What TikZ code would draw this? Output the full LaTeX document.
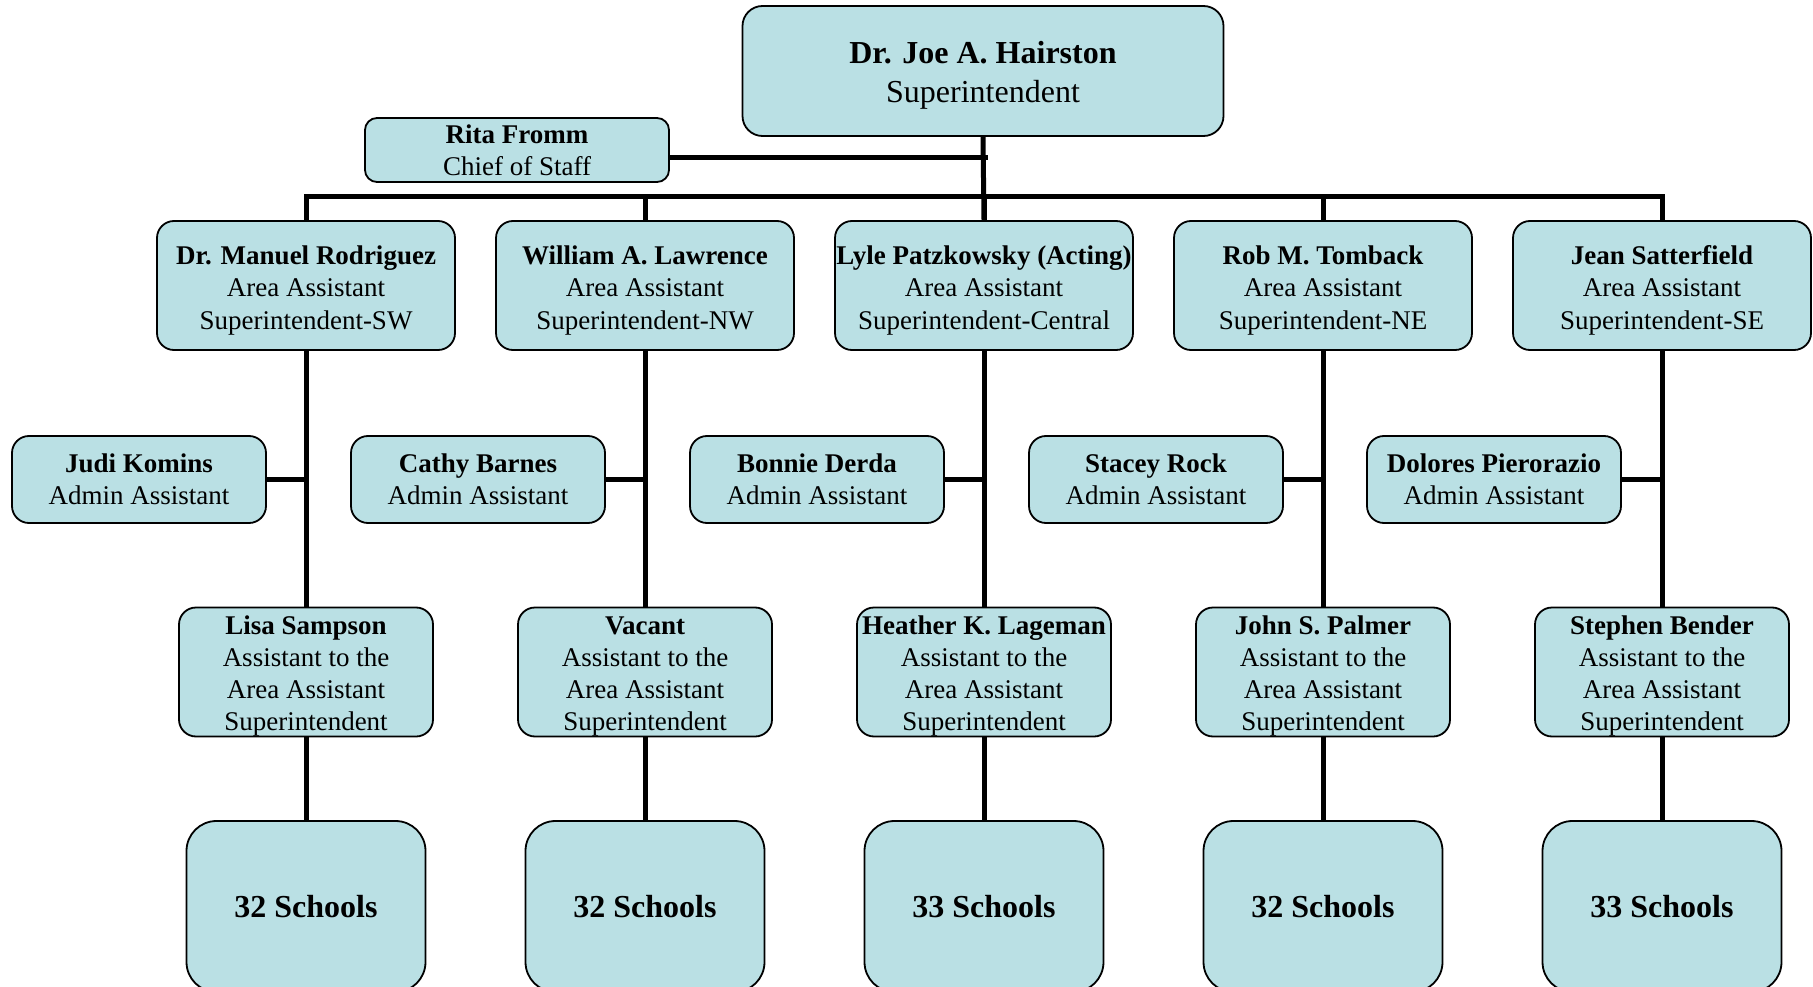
\documentclass[tikz,border=0pt]{standalone}
\usepackage{fontspec}
\setmainfont{Liberation Serif}
\usetikzlibrary{backgrounds}
\definecolor{boxfill}{RGB}{186,224,228}
\newcommand{\lowstrut}[1]{\rule{0pt}{#1}}
\tikzset{
  box/.style={draw=black, line width=1.8pt, fill=boxfill, rounded corners=17pt, align=center, inner sep=0pt, text=black},
  topbox/.style={box, minimum width=481pt, minimum height=130pt, rounded corners=20pt, font=\fontsize{32}{39}\selectfont},
  chiefbox/.style={box, minimum width=304pt, minimum height=64pt, rounded corners=12pt, font=\fontsize{27}{32}\selectfont},
  areabox/.style={box, minimum width=298pt, minimum height=129pt, font=\fontsize{27}{32.5}\selectfont},
  adminbox/.style={box, minimum width=254pt, minimum height=87pt, font=\fontsize{27}{32}\selectfont},
  asstbox/.style={box, minimum width=254pt, minimum height=129pt, font=\fontsize{27}{32}\selectfont},
  schoolbox/.style={box, minimum width=239pt, minimum height=171pt, rounded corners=30pt, font=\bfseries\fontsize{32}{38}\selectfont},
  link/.style={draw=black, line width=5pt}
}
\begin{document}
\begin{tikzpicture}[x=1pt,y=-1pt]
\clip (0,0) rectangle (1813,987);

\node[topbox] (top) at (983,71) {\lowstrut{31pt}\textbf{Dr. Joe A. Hairston}\\Superintendent};
\node[chiefbox] (chief) at (517,150) {\textbf{Rita Fromm}\\Chief of Staff};

\node[areabox] (a1) at (306,285.5) {\lowstrut{28pt}\textbf{Dr. Manuel Rodriguez}\\Area Assistant\\Superintendent-SW};
\node[areabox] (a2) at (645,285.5) {\lowstrut{28pt}\textbf{William A. Lawrence}\\Area Assistant\\Superintendent-NW};
\node[areabox] (a3) at (984,285.5) {\lowstrut{28pt}\textbf{Lyle Patzkowsky (Acting)}\\Area Assistant\\Superintendent-Central};
\node[areabox] (a4) at (1323,285.5) {\lowstrut{28pt}\textbf{Rob M. Tomback}\\Area Assistant\\Superintendent-NE};
\node[areabox] (a5) at (1662,285.5) {\lowstrut{28pt}\textbf{Jean Satterfield}\\Area Assistant\\Superintendent-SE};

\node[adminbox] (d1) at (139,479.5) {\textbf{Judi Komins}\\Admin Assistant};
\node[adminbox] (d2) at (478,479.5) {\textbf{Cathy Barnes}\\Admin Assistant};
\node[adminbox] (d3) at (817,479.5) {\textbf{Bonnie Derda}\\Admin Assistant};
\node[adminbox] (d4) at (1156,479.5) {\textbf{Stacey Rock}\\Admin Assistant};
\node[adminbox] (d5) at (1494,479.5) {\textbf{Dolores Pierorazio}\\Admin Assistant};

\node[asstbox] (s1) at (306,672) {\lowstrut{26pt}\textbf{Lisa Sampson}\\Assistant to the\\Area Assistant\\Superintendent};
\node[asstbox] (s2) at (645,672) {\lowstrut{26pt}\textbf{Vacant}\\Assistant to the\\Area Assistant\\Superintendent};
\node[asstbox] (s3) at (984,672) {\lowstrut{26pt}\textbf{Heather K. Lageman}\\Assistant to the\\Area Assistant\\Superintendent};
\node[asstbox] (s4) at (1323,672) {\lowstrut{26pt}\textbf{John S. Palmer}\\Assistant to the\\Area Assistant\\Superintendent};
\node[asstbox] (s5) at (1662,672) {\lowstrut{26pt}\textbf{Stephen Bender}\\Assistant to the\\Area Assistant\\Superintendent};

\node[schoolbox] (k1) at (306,906.5) {32 Schools};
\node[schoolbox] (k2) at (645,906.5) {32 Schools};
\node[schoolbox] (k3) at (984,906.5) {33 Schools};
\node[schoolbox] (k4) at (1323,906.5) {32 Schools};
\node[schoolbox] (k5) at (1662,906.5) {33 Schools};

\coordinate (busL) at (306,196.5);
\coordinate (busR) at (1662,196.5);
\coordinate (chiefJ) at (988,158);

\begin{pgfonlayer}{background}
  \fill[white] (0,0) rectangle (1813,987);
  \draw[link] (top.south) -- (a3.north);
  \draw[link] (chief.east |- chiefJ) -- (chiefJ);
  \draw[link, line join=miter] (a1.north) -- (busL) -- (busR) -- (a5.north);
  \foreach \i in {2,3,4} {
    \draw[link] (busL -| a\i.north) -- (a\i.north);
  }
  \foreach \i in {1,...,5} {
    \draw[link] (a\i.south) -- (s\i.north);
    \draw[link] (s\i.south) -- (k\i.north);
    \draw[link] (d\i.east) -- (d\i.east -| a\i.south);
  }
\end{pgfonlayer}
\end{tikzpicture}
\end{document}
